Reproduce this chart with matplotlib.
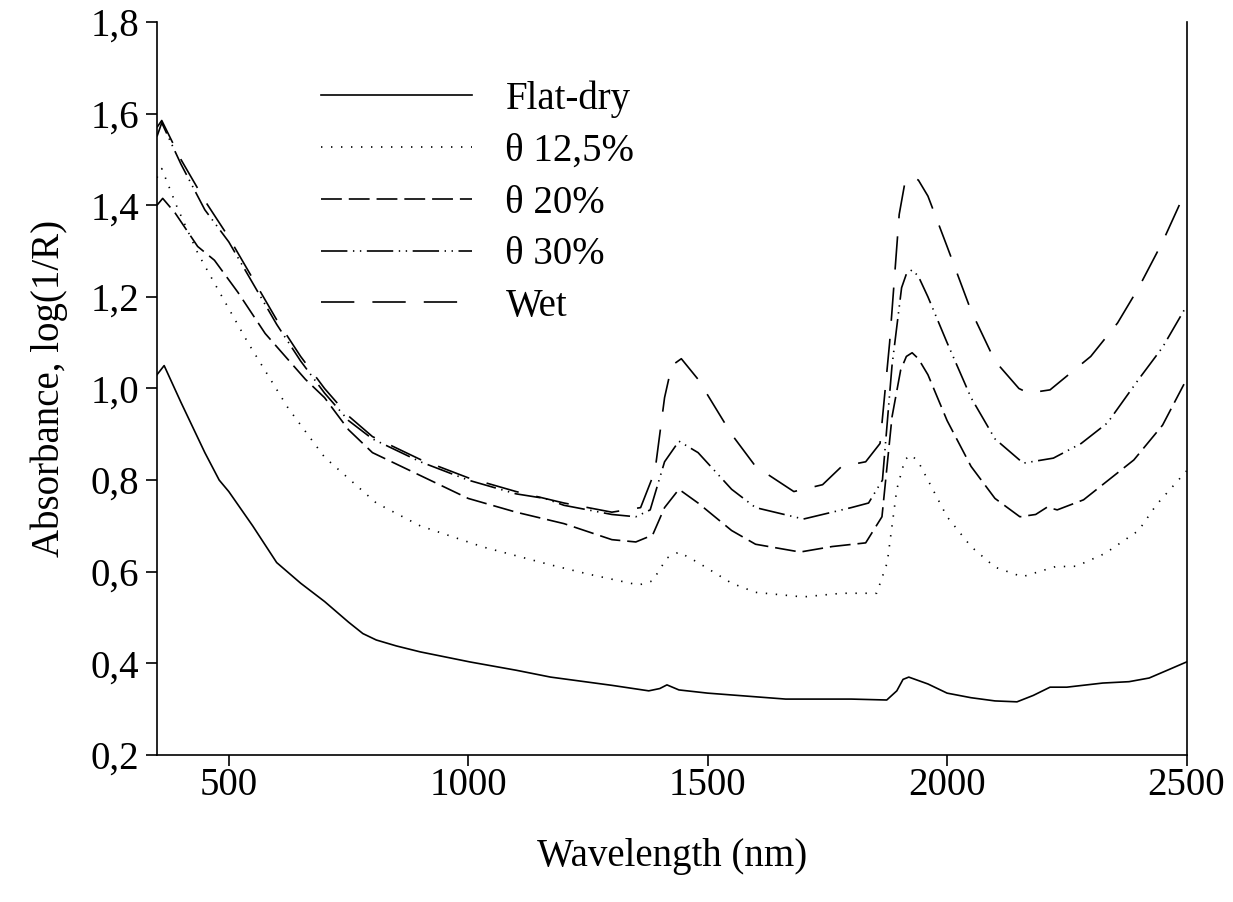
import numpy as np
import matplotlib
matplotlib.use("Agg")
from matplotlib import pyplot as plt
from matplotlib.ticker import FuncFormatter

plt.rcParams['font.family'] = ['Liberation Serif', 'DejaVu Serif']
plt.rcParams['lines.scale_dashes'] = False

# spectra (wavelength nm, absorbance)
wl_dry = [350, 365, 400, 450, 480, 500, 550, 600, 650, 700, 750, 780, 808, 850, 900, 1004, 1100,
          1172, 1300, 1377, 1400, 1415, 1440, 1500, 1663, 1800, 1874, 1895, 1908, 1920, 1960,
          2000, 2050, 2100, 2146, 2180, 2215, 2250, 2325, 2380, 2422, 2460, 2500]
ab_dry = [1.03, 1.05, 0.97, 0.86, 0.80, 0.775, 0.70, 0.62, 0.575, 0.535, 0.49, 0.465, 0.451, 0.438,
          0.425, 0.403, 0.385, 0.37, 0.352, 0.34, 0.345, 0.353, 0.342, 0.335, 0.322, 0.322, 0.32,
          0.34, 0.365, 0.37, 0.355, 0.335, 0.325, 0.318, 0.316, 0.33, 0.348, 0.348, 0.357, 0.36,
          0.368, 0.385, 0.403]

wl_125 = [350, 360, 392, 435, 470, 540, 624, 700, 808, 900, 1031, 1172, 1250, 1356, 1385, 1415,
          1440, 1480, 1550, 1600, 1699, 1780, 1853, 1875, 1895, 1912, 1925, 1940, 1960, 2000,
          2050, 2100, 2157, 2226, 2270, 2330, 2400, 2437, 2500]
ab_125 = [1.46, 1.48, 1.396, 1.296, 1.23, 1.10, 0.957, 0.85, 0.75, 0.70, 0.654, 0.615, 0.595, 0.571,
          0.58, 0.63, 0.643, 0.62, 0.575, 0.555, 0.545, 0.553, 0.553, 0.62, 0.78, 0.845, 0.855,
          0.84, 0.80, 0.72, 0.655, 0.61, 0.589, 0.611, 0.612, 0.64, 0.69, 0.746, 0.82]

wl_20 = [350, 362, 388, 435, 470, 519, 576, 660, 700, 750, 800, 900, 1000, 1100, 1200, 1300, 1350,
         1385, 1410, 1440, 1480, 1550, 1600, 1693, 1760, 1830, 1864, 1885, 1903, 1915, 1927, 1940,
         1960, 2000, 2050, 2100, 2152, 2185, 2209, 2230, 2285, 2390, 2450, 2500]
ab_20 = [1.40, 1.415, 1.383, 1.31, 1.28, 1.21, 1.12, 1.02, 0.98, 0.91, 0.86, 0.81, 0.76, 0.73, 0.705,
         0.67, 0.665, 0.68, 0.74, 0.78, 0.75, 0.69, 0.66, 0.643, 0.655, 0.663, 0.72, 0.938, 1.04,
         1.07, 1.078, 1.065, 1.03, 0.93, 0.83, 0.76, 0.72, 0.725, 0.741, 0.735, 0.757, 0.844,
         0.92, 1.02]

wl_30 = [350, 360, 400, 450, 500, 550, 600, 650, 700, 750, 800, 900, 1000, 1100, 1160, 1200, 1300,
         1350, 1380, 1410, 1440, 1480, 1550, 1600, 1700, 1760, 1800, 1836, 1865, 1885, 1905,
         1915, 1927, 1940, 1960, 2000, 2050, 2100, 2159, 2222, 2280, 2335, 2400, 2450, 2500]
ab_30 = [1.55, 1.58, 1.49, 1.39, 1.32, 1.23, 1.14, 1.06, 0.99, 0.93, 0.89, 0.84, 0.80, 0.77, 0.76,
         0.745, 0.725, 0.72, 0.735, 0.84, 0.885, 0.86, 0.78, 0.74, 0.715, 0.73, 0.74, 0.75, 0.80,
         1.05, 1.22, 1.25, 1.259, 1.245, 1.2, 1.1, 0.98, 0.89, 0.837, 0.848, 0.88, 0.925, 1.02,
         1.09, 1.18]

wl_wet = [350, 360, 400, 450, 500, 550, 600, 650, 700, 750, 800, 900, 1000, 1100, 1200, 1300, 1360,
          1390, 1410, 1425, 1445, 1480, 1550, 1600, 1680, 1740, 1780, 1830, 1860, 1880, 1900,
          1912, 1925, 1940, 1960, 2000, 2050, 2100, 2150, 2170, 2215, 2300, 2356, 2400, 2450, 2500]
ab_wet = [1.57, 1.585, 1.5, 1.41, 1.33, 1.24, 1.15, 1.07, 1.0, 0.94, 0.895, 0.845, 0.805, 0.775,
          0.75, 0.73, 0.74, 0.82, 0.98, 1.05, 1.065, 1.02, 0.9, 0.83, 0.775, 0.79, 0.83, 0.84,
          0.88, 1.1, 1.38, 1.45, 1.462, 1.455, 1.42, 1.31, 1.17, 1.06, 1.0, 0.99, 0.997, 1.07,
          1.143, 1.22, 1.32, 1.435]

labels = ['Flat-dry', '\u03b8 12,5%', '\u03b8 20%', '\u03b8 30%', 'Wet']

fig = plt.figure(figsize=(12.33, 9.02), dpi=100)
ax = fig.add_axes([0.1273, 0.163, 0.835, 0.8126])

lw = 1.2
ax.plot(wl_dry, ab_dry, color='black', lw=lw, linestyle='-', label=labels[0])
ax.plot(wl_125, ab_125, color='black', lw=lw, linestyle=(0, (1, 6.2)), label=labels[1])
ax.plot(wl_20, ab_20, color='black', lw=lw, linestyle=(0, (15, 5)), label=labels[2])
ax.plot(wl_30, ab_30, color='black', lw=lw, linestyle=(0, (19, 4, 1, 4, 1, 4)), label=labels[3])
ax.plot(wl_wet, ab_wet, color='black', lw=lw, linestyle=(0, (24, 13)), label=labels[4])

ax.set_xlim(350, 2500)
ax.set_ylim(0.2, 1.8)
ax.set_xticks([500, 1000, 1500, 2000, 2500])
ax.set_yticks(np.arange(0.2, 1.81, 0.2))
ax.yaxis.set_major_formatter(FuncFormatter(lambda v, p: ('%.1f' % v).replace('.', ',')))
ax.tick_params(direction='out', length=8, width=1.2, labelsize=28)
ax.tick_params(axis='x', pad=1)
ax.tick_params(axis='y', pad=5)
ax.spines['top'].set_visible(False)
for s in ['left', 'bottom', 'right']:
    ax.spines[s].set_linewidth(1.2)

ax.set_xlabel('Wavelength (nm)', fontsize=28, labelpad=24)
ax.set_ylabel('Absorbance, log(1/R)', fontsize=28, labelpad=16)

ax.legend(loc='upper left', bbox_to_anchor=(0.125, 0.968), frameon=False, fontsize=28,
          handlelength=3.9, handletextpad=0.85, labelspacing=0.38)

fig.savefig('out.png', dpi=100)
